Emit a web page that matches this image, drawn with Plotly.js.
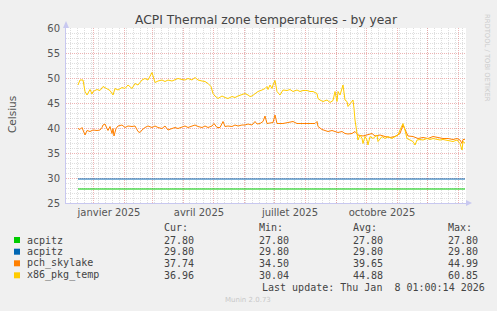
<!DOCTYPE html>
<html><head><meta charset="utf-8">
<script src="https://cdn.plot.ly/plotly-3.0.1.min.js"></script>
<style>html,body{margin:0;padding:0;background:#F0F0F0;}#chart{width:497px;height:311px;}</style>
</head><body><div id="chart"></div>
<script>
const chartTitle = 'ACPI Thermal zone temperatures - by year';
const yTitle = 'Celsius';
const seriesNames = ['acpitz', 'acpitz', 'pch_skylake', 'x86_pkg_temp'];
const seriesColors = ['#00CC00', '#0066B3', '#FF8000', '#FFCC00'];

const acpitzDates = ['2024-12-17', '2026-01-08'];
const acpitzGreenValues = [27.8, 27.8];
const acpitzBlueValues = [29.8, 29.8];

const pchDates = ['2024-12-17','2024-12-19','2024-12-21','2024-12-22','2024-12-24','2024-12-26','2024-12-29','2025-01-01','2025-01-05','2025-01-08','2025-01-10','2025-01-11','2025-01-13','2025-01-15','2025-01-16','2025-01-18','2025-01-20','2025-01-21','2025-01-22','2025-01-24','2025-01-26','2025-01-30','2025-02-02','2025-02-05','2025-02-09','2025-02-12','2025-02-15','2025-02-17','2025-02-19','2025-02-22','2025-02-25','2025-03-01','2025-03-04','2025-03-07','2025-03-11','2025-03-14','2025-03-17','2025-03-21','2025-03-24','2025-03-27','2025-03-31','2025-04-03','2025-04-06','2025-04-10','2025-04-13','2025-04-16','2025-04-20','2025-04-23','2025-04-26','2025-04-30','2025-05-02','2025-05-05','2025-05-08','2025-05-11','2025-05-13','2025-05-16','2025-05-20','2025-05-23','2025-05-26','2025-05-30','2025-06-02','2025-06-05','2025-06-09','2025-06-12','2025-06-14','2025-06-17','2025-06-20','2025-06-22','2025-06-24','2025-06-27','2025-06-30','2025-07-02','2025-07-04','2025-07-10','2025-07-17','2025-07-20','2025-07-24','2025-07-30','2025-08-03','2025-08-08','2025-08-11','2025-08-13','2025-08-14','2025-08-18','2025-08-21','2025-08-24','2025-08-28','2025-08-31','2025-09-03','2025-09-07','2025-09-10','2025-09-13','2025-09-17','2025-09-20','2025-09-23','2025-09-28','2025-10-03','2025-10-07','2025-10-10','2025-10-15','2025-10-20','2025-10-25','2025-10-30','2025-11-04','2025-11-07','2025-11-09','2025-11-12','2025-11-17','2025-11-22','2025-11-27','2025-12-02','2025-12-07','2025-12-12','2025-12-17','2025-12-22','2025-12-27','2025-12-31','2026-01-03','2026-01-05','2026-01-06','2026-01-08'];
const pchValues = [39.9,39.7,40.1,39.6,38.6,39.5,39.3,39.6,39.5,39.6,40.1,40.6,40.8,39.9,39.5,40.3,38.9,39.9,38.4,39.9,40.4,40.6,40.1,40.4,40.3,40.4,39.3,39.1,39.6,40.1,40.4,40.1,40.4,40.1,39.9,40.4,39.6,39.9,40.1,39.9,40.1,40.4,40.1,40.3,40.6,40.3,40.1,40.4,40.1,40.4,40.9,40.1,40.1,41.3,40.3,40.4,40.3,40.6,40.4,40.6,40.6,40.8,40.6,41.3,40.8,40.9,41.3,42.4,40.9,41.0,41.1,42.6,40.9,40.9,41.1,41.3,40.9,40.9,40.9,40.9,40.9,41.3,40.3,39.7,39.5,39.3,39.5,39.3,39.1,39.3,38.9,38.8,38.9,39.3,38.6,38.4,38.6,38.9,38.4,38.6,38.3,38.1,38.3,38.9,40.6,39.6,38.4,38.3,37.9,38.1,37.9,38.3,38.1,37.9,37.9,37.7,37.9,37.6,36.9,37.7,37.74];

const x86Dates = ['2024-12-17','2024-12-19','2024-12-22','2024-12-24','2024-12-26','2024-12-29','2024-12-31','2025-01-01','2025-01-05','2025-01-08','2025-01-11','2025-01-15','2025-01-18','2025-01-21','2025-01-23','2025-01-26','2025-01-30','2025-02-02','2025-02-05','2025-02-09','2025-02-12','2025-02-15','2025-02-19','2025-02-22','2025-02-25','2025-03-01','2025-03-04','2025-03-07','2025-03-11','2025-03-14','2025-03-17','2025-03-21','2025-03-24','2025-03-27','2025-03-31','2025-04-03','2025-04-06','2025-04-10','2025-04-13','2025-04-16','2025-04-20','2025-04-23','2025-04-26','2025-04-29','2025-05-01','2025-05-03','2025-05-06','2025-05-10','2025-05-13','2025-05-16','2025-05-20','2025-05-23','2025-05-26','2025-05-30','2025-06-02','2025-06-05','2025-06-07','2025-06-09','2025-06-12','2025-06-15','2025-06-19','2025-06-22','2025-06-24','2025-06-25','2025-06-27','2025-06-29','2025-06-30','2025-07-02','2025-07-04','2025-07-07','2025-07-10','2025-07-14','2025-07-17','2025-07-20','2025-07-24','2025-07-27','2025-07-30','2025-08-03','2025-08-06','2025-08-09','2025-08-13','2025-08-14','2025-08-16','2025-08-19','2025-08-23','2025-08-26','2025-08-29','2025-08-31','2025-09-02','2025-09-03','2025-09-05','2025-09-07','2025-09-08','2025-09-10','2025-09-12','2025-09-13','2025-09-17','2025-09-18','2025-09-19','2025-09-20','2025-09-22','2025-09-23','2025-09-25','2025-09-27','2025-09-28','2025-09-30','2025-10-02','2025-10-03','2025-10-05','2025-10-08','2025-10-12','2025-10-13','2025-10-17','2025-10-20','2025-10-23','2025-10-27','2025-10-30','2025-11-02','2025-11-04','2025-11-06','2025-11-07','2025-11-09','2025-11-11','2025-11-14','2025-11-17','2025-11-19','2025-11-21','2025-11-24','2025-11-27','2025-12-01','2025-12-04','2025-12-07','2025-12-11','2025-12-14','2025-12-17','2025-12-21','2025-12-24','2025-12-27','2025-12-31','2026-01-03','2026-01-05','2026-01-06','2026-01-08'];
const x86Values = [48.6,49.6,49.6,47.3,46.6,47.7,46.8,47.3,47.7,47.5,48.3,47.9,47.5,46.6,47.9,47.6,48.1,47.9,48.6,47.9,48.9,48.6,49.6,49.9,49.6,51.1,49.1,49.4,49.6,49.3,49.6,49.4,49.7,49.9,49.7,49.6,49.9,49.6,50.1,49.6,49.4,49.3,48.9,48.3,46.9,46.4,45.9,46.4,46.1,45.9,46.3,46.1,46.4,46.6,46.9,46.6,46.3,46.4,46.8,47.3,47.6,47.9,48.3,47.7,48.6,47.9,48.6,49.5,47.3,46.6,47.6,47.5,47.7,47.3,47.6,47.3,47.5,47.5,47.3,47.3,46.9,45.9,45.6,45.3,45.6,45.1,45.5,47.3,45.3,47.3,46.6,48.3,48.6,45.6,45.3,44.3,45.3,45.6,43.9,41.6,38.9,37.6,38.6,37.9,36.9,38.3,37.6,36.6,38.3,37.9,38.6,37.3,38.3,37.9,38.3,37.9,38.3,38.6,39.6,40.6,40.9,39.6,37.9,37.6,37.3,36.6,37.6,37.7,37.6,37.9,37.7,37.9,37.7,37.6,37.7,37.6,37.5,37.3,37.6,36.9,35.6,37.3,36.96];

const statHeaders = ['Cur:', 'Min:', 'Avg:', 'Max:'];
const curValues = ['27.80', '29.80', '37.74', '36.96'];
const minValues = ['27.80', '29.80', '34.50', '30.04'];
const avgValues = ['27.80', '29.80', '39.65', '44.88'];
const maxValues = ['27.80', '29.80', '44.99', '60.85'];
const lastUpdate = 'Last update: Thu Jan \u00A08 01:00:14 2026';
const footer = 'Munin 2.0.73';
const sideText = 'RRDTOOL / TOBI OETIKER';

const monthTicks = ['2025-01-01','2025-02-01','2025-03-01','2025-04-01','2025-05-01','2025-06-01','2025-07-01','2025-08-01','2025-09-01','2025-10-01','2025-11-01','2025-12-01','2026-01-01'];
const monthLabels = ['janvier 2025','','','avril 2025','','','juillet 2025','','','octobre 2025','','',''];
const xRange = ['2024-12-05', '2026-01-09'];
const yRange = [25, 60];

// layout geometry (pixels)
const L = 66, R = 466, T = 28, B = 203;
const px = x => (x - L) / (R - L);
const py = y => (B - y) / (B - T);

const seriesX = [acpitzDates, acpitzDates, pchDates, x86Dates];
const seriesY = [acpitzGreenValues, acpitzBlueValues, pchValues, x86Values];
const traces = seriesNames.map((n, i) => ({
  type: 'scatter', mode: 'lines', name: n, x: seriesX[i], y: seriesY[i],
  line: {color: seriesColors[i], width: 1}, hoverinfo: 'skip', showlegend: false
}));

const textColor = '#444';
const mono = 'DejaVu Sans Mono';
const ann = [];
const cols = [163, 258, 352, 447];
const rowsY = [240, 251.7, 263.3, 275.3];
statHeaders.forEach((h, j) => ann.push({text: h, x: px(cols[j]), y: py(227.3)}));
const statCols = [curValues, minValues, avgValues, maxValues];
const shapes = [];
seriesNames.forEach((n, i) => {
  ann.push({text: n, x: px(26), y: py(rowsY[i])});
  statCols.forEach((c, j) => ann.push({text: c[i], x: px(cols[j]), y: py(rowsY[i])}));
  shapes.push({type: 'rect', xref: 'paper', yref: 'paper', x0: px(14), x1: px(20), y0: py(rowsY[i] + 3), y1: py(rowsY[i] - 3), fillcolor: seriesColors[i], line: {width: 0}});
});
ann.push({text: lastUpdate, x: px(261), y: py(287.3)});
const annotations = ann.map(a => Object.assign({xref: 'paper', yref: 'paper', xanchor: 'left', yanchor: 'middle', showarrow: false, borderpad: 0, font: {family: mono, size: 10, color: textColor}}, a));
annotations.push({text: footer, xref: 'paper', yref: 'paper', x: px(248), y: py(300.3), xanchor: 'center', yanchor: 'middle', showarrow: false, borderpad: 0, font: {family: 'DejaVu Sans', size: 7, color: '#C8C8C8'}});
annotations.push({text: sideText, xref: 'paper', yref: 'paper', x: px(487), y: py(58), xanchor: 'center', yanchor: 'middle', textangle: 90, showarrow: false, borderpad: 0, font: {family: 'DejaVu Sans', size: 6.8, color: '#CCCCCC'}});
annotations.push({text: yTitle, xref: 'paper', yref: 'paper', x: px(12), y: py(115), xanchor: 'center', yanchor: 'middle', textangle: -90, showarrow: false, borderpad: 0, font: {family: 'DejaVu Sans', size: 10.5, color: '#555'}});

// axis arrows
const axisColor = '#C8C8F0';
shapes.push({type: 'path', xref: 'paper', yref: 'paper', path: `M ${px(63)} ${py(28)} L ${px(69)} ${py(28)} L ${px(66)} ${py(21)} Z`, fillcolor: axisColor, line: {width: 0}});
shapes.push({type: 'path', xref: 'paper', yref: 'paper', path: `M ${px(466)} ${py(200)} L ${px(466)} ${py(206)} L ${px(472)} ${py(203)} Z`, fillcolor: axisColor, line: {width: 0}});

const majorGrid = 'rgba(225,130,130,0.6)';
const minorGrid = 'rgba(190,190,190,0.5)';
const gridDash = '1px,1px';
const layout = {
  width: 497, height: 311,
  paper_bgcolor: '#F0F0F0', plot_bgcolor: '#FFFFFF',
  margin: {l: L, r: 497 - R, t: T, b: 311 - B},
  title: {text: chartTitle, x: 0.5, xref: 'paper', xanchor: 'center', y: 1 - 19.5 / 311, yanchor: 'middle', font: {family: 'DejaVu Sans', size: 12.3, color: '#444'}},
  xaxis: {
    type: 'date', range: xRange, tickmode: 'array', tickvals: monthTicks, ticktext: monthLabels,
    ticklabelshift: 16, showgrid: true, gridcolor: majorGrid, griddash: gridDash, gridwidth: 1,
    showline: true, linecolor: axisColor, linewidth: 1, ticks: '', zeroline: false,
    tickfont: {family: 'DejaVu Sans', size: 10, color: '#555'},
    minor: {tickmode: 'linear', tick0: '2024-12-09', dtick: 7 * 86400000, showgrid: true, gridcolor: minorGrid, griddash: gridDash, gridwidth: 1, ticks: ''},
    fixedrange: true
  },
  yaxis: {
    range: yRange, tickmode: 'linear', tick0: 25, dtick: 5, showgrid: true, gridcolor: majorGrid, griddash: gridDash, gridwidth: 1,
    showline: true, linecolor: axisColor, linewidth: 1, ticks: 'outside', ticklen: 3, tickcolor: 'rgba(0,0,0,0)', zeroline: false,
    tickfont: {family: 'DejaVu Sans', size: 10, color: '#555'},
    minor: {tickmode: 'linear', tick0: 25, dtick: 1, showgrid: true, gridcolor: minorGrid, griddash: gridDash, gridwidth: 1, ticks: ''},
    fixedrange: true
  },
  annotations: annotations,
  shapes: shapes,
  showlegend: false
};
Plotly.newPlot('chart', traces, layout, {staticPlot: true, displayModeBar: false});
</script>
</body></html>
